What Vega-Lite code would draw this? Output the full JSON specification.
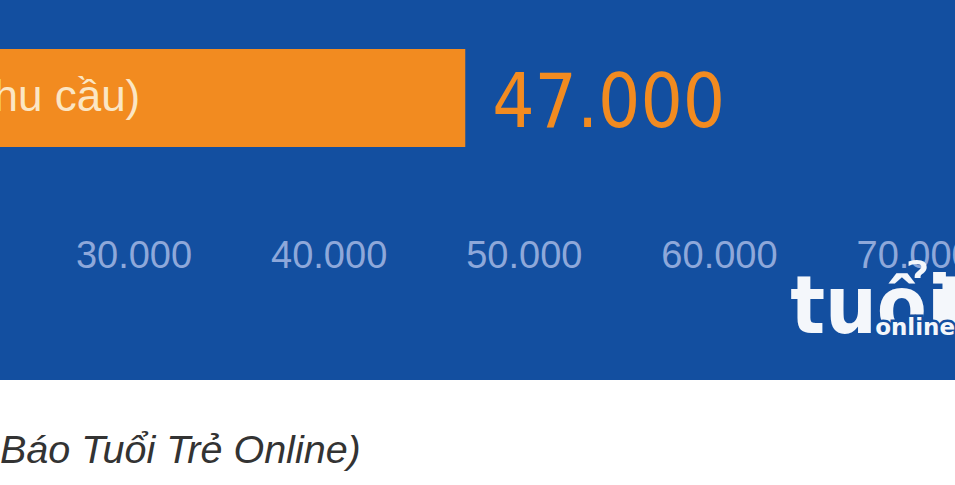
{
  "$schema": "https://vega.github.io/schema/vega-lite/v6.json",
  "width": 955,
  "height": 380,
  "autosize": "none",
  "padding": {"left": 0, "top": 0, "right": 0, "bottom": 105},
  "background": "white",
  "config": {
    "view": {"fill": "#134fa0", "stroke": null},
    "locale": {"number": {"decimal": ",", "thousands": ".", "grouping": [3], "currency": ["", "đ"]}}
  },
  "title": {
    "text": "Báo Tuổi Trẻ Online)",
    "orient": "bottom",
    "anchor": "start",
    "frame": "group",
    "font": "Liberation Sans",
    "fontStyle": "italic",
    "fontWeight": "normal",
    "fontSize": 39.5,
    "color": "#333333",
    "offset": 52,
    "baseline": "top"
  },
  "data": {"values": [{"cat": "(nhu cầu)", "value": 47000}]},
  "encoding": {
    "y": {
      "field": "cat",
      "type": "nominal",
      "axis": null,
      "scale": {"paddingInner": 0.305, "paddingOuter": 1, "align": 0.1738}
    }
  },
  "layer": [
    {
      "mark": {"type": "bar", "color": "#f28b20", "clip": true},
      "encoding": {
        "x": {
          "field": "value",
          "type": "quantitative",
          "scale": {"domain": [23160, 72094], "nice": false, "zero": false},
          "axis": {
            "values": [20000, 30000, 40000, 50000, 60000, 70000],
            "format": ",d",
            "title": null,
            "domain": false,
            "ticks": false,
            "grid": false,
            "offset": -145,
            "labelPadding": 2,
            "labelFont": "Liberation Sans",
            "labelFontSize": 38,
            "labelColor": "#8ea8da",
            "labelFlush": false,
            "labelOverlap": false,
            "labelBound": false
          }
        }
      }
    },
    {
      "mark": {"type": "text", "align": "right", "baseline": "alphabetic", "dx": -325, "dy": 13, "font": "Liberation Sans", "fontSize": 44, "color": "#fbe6c4"},
      "encoding": {
        "x": {"field": "value", "type": "quantitative"},
        "text": {"field": "cat"}
      }
    },
    {
      "mark": {"type": "text", "align": "left", "baseline": "middle", "dx": 27, "dy": 7, "font": "DejaVu Sans Condensed", "fontSize": 74, "color": "#f28b20"},
      "encoding": {
        "x": {"field": "value", "type": "quantitative"},
        "text": {"field": "value", "type": "quantitative", "format": ",d"}
      }
    },
    {
      "mark": {"type": "text", "align": "left", "baseline": "alphabetic", "dx": -124, "dy": 235, "font": "DejaVu Sans Condensed", "fontWeight": "bold", "fontSize": 81, "color": "#f4f7fb"},
      "encoding": {
        "x": {"datum": 70000, "type": "quantitative"},
        "text": {"value": "tuổi"}
      }
    },
    {
      "mark": {"type": "text", "align": "left", "baseline": "alphabetic", "dx": 21, "dy": 235, "font": "DejaVu Sans Condensed", "fontWeight": "bold", "fontSize": 81, "color": "#f4f7fb"},
      "encoding": {
        "x": {"datum": 70000, "type": "quantitative"},
        "text": {"value": "trẻ"}
      }
    },
    {
      "mark": {"type": "text", "align": "left", "baseline": "alphabetic", "dx": -39, "dy": 237, "font": "DejaVu Sans", "fontWeight": "bold", "fontSize": 23, "color": "#134fa0", "stroke": "#134fa0", "strokeWidth": 5},
      "encoding": {
        "x": {"datum": 70000, "type": "quantitative"},
        "text": {"value": "online"}
      }
    },
    {
      "mark": {"type": "text", "align": "left", "baseline": "alphabetic", "dx": -39, "dy": 237, "font": "DejaVu Sans", "fontWeight": "bold", "fontSize": 23, "color": "#f4f7fb"},
      "encoding": {
        "x": {"datum": 70000, "type": "quantitative"},
        "text": {"value": "online"}
      }
    }
  ]
}
